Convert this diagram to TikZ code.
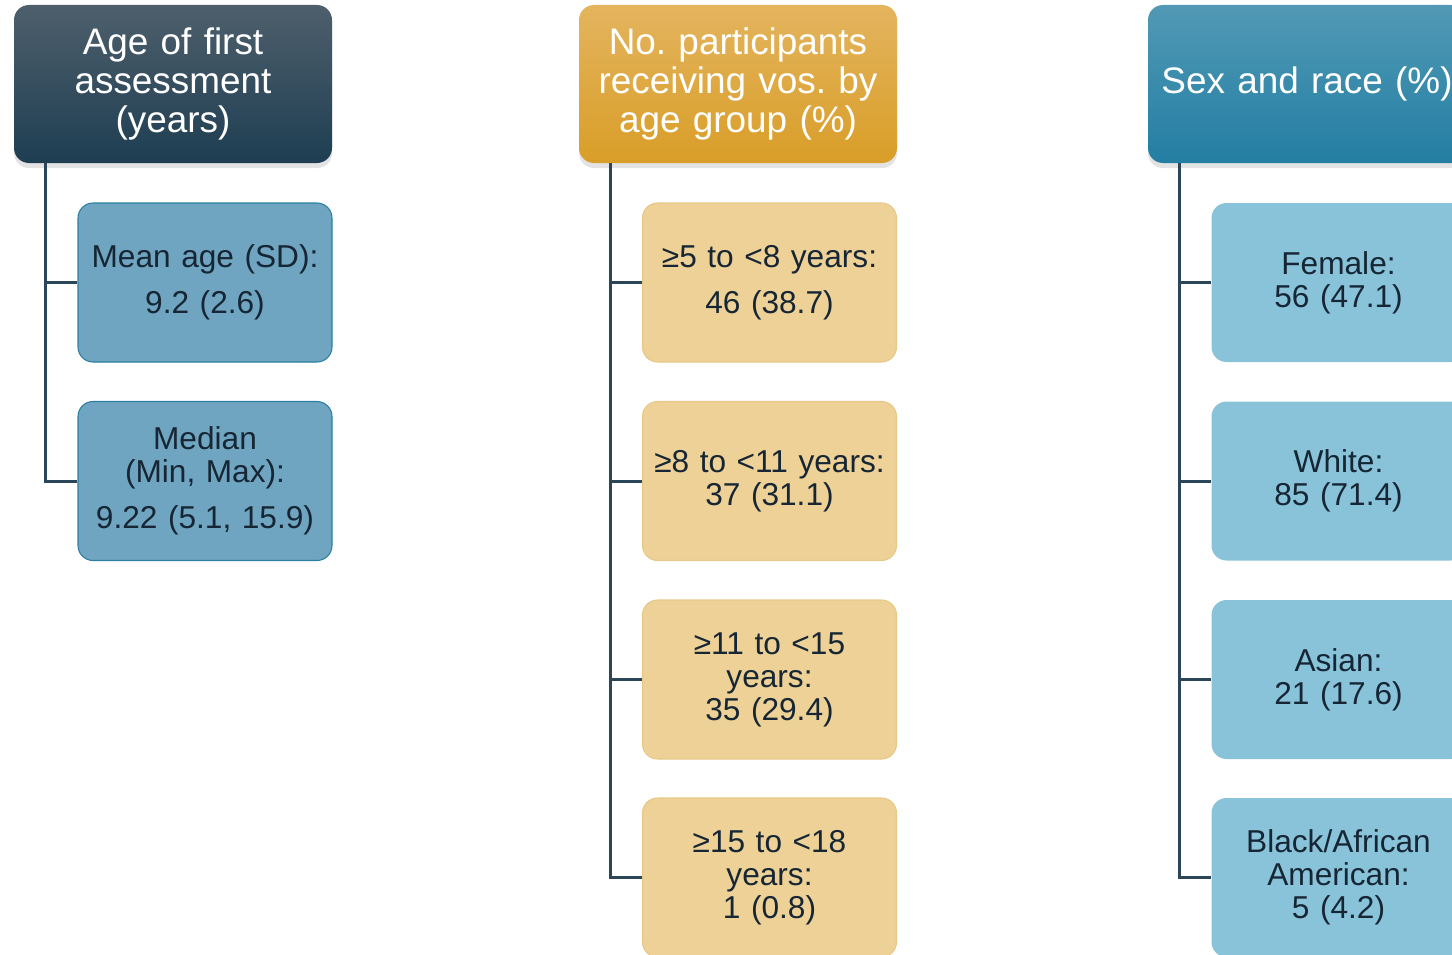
\documentclass[tikz,border=0pt]{standalone}
\usepackage{fontspec}
\setmainfont{Liberation Sans}
\usepackage{xcolor}
\usepackage{tikz}
\usetikzlibrary{shadows, positioning}
\frenchspacing
\definecolor{slatetop}{RGB}{78,95,108}
\definecolor{slatebot}{RGB}{30,62,82}
\definecolor{goldtop}{RGB}{228,180,94}
\definecolor{goldbot}{RGB}{217,158,40}
\definecolor{tealtop}{RGB}{81,153,181}
\definecolor{tealbot}{RGB}{35,126,163}
\definecolor{agefill}{RGB}{111,165,192}
\definecolor{ageline}{RGB}{42,127,163}
\definecolor{grpfill}{RGB}{237,209,150}
\definecolor{grpline}{RGB}{232,200,136}
\definecolor{racefill}{RGB}{137,195,217}
\definecolor{linkcol}{RGB}{43,70,89}
\definecolor{txtdark}{RGB}{22,38,52}
\tikzset{
  head/.style={rectangle, rounded corners=0.3cm, minimum width=6.36cm, minimum height=3.16cm,
               text width=5.9cm, inner xsep=0.2cm, align=center, text=white, font=\fontsize{21}{22.2}\selectfont,
               drop shadow={shadow xshift=0pt, shadow yshift=-0.1cm, opacity=0.22}},
  item/.style={rectangle, rounded corners=0.3cm, minimum width=5.08cm, minimum height=3.18cm,
               text width=4.7cm, inner xsep=0.19cm, align=center, text=txtdark, font=\fontsize{18}{18.8}\selectfont},
  ageitem/.style={item, fill=agefill, draw=ageline, line width=0.6pt},
  grpitem/.style={item, fill=grpfill, draw=grpline, line width=0.6pt},
  raceitem/.style={item, fill=racefill},
  link/.style={draw=linkcol, line width=1.7pt},
}
\begin{document}
\begin{tikzpicture}
\clip (0,-19.08) rectangle (29.04,0);
\useasboundingbox (0,-19.08) rectangle (29.04,0);
% naglowki kolumn
\node[head, top color=slatetop, bottom color=slatebot] (age) at (3.46,-1.68) {Age of first\\ assessment\\ (years)};
\node[head, top color=goldtop, bottom color=goldbot] (grp) at (14.76,-1.68) {No. participants\\ receiving vos. by\\ age group (\%)};
\node[head, top color=tealtop, bottom color=tealbot] (race) at (26.14,-1.68) {Sex and race (\%)};

% wiek
\node[ageitem] (mean) at (4.10,-5.65) {Mean age (SD):\\[0.26cm] 9.2 (2.6)};
\node[ageitem] (median) at (4.10,-9.62) {Median\\ (Min, Max):\\[0.26cm] 9.22 (5.1, 15.9)};

% grupy wiekowe
\node[grpitem] (g1) at (15.39,-5.65) {≥5 to <8 years:\\[0.26cm] 46 (38.7)};
\node[grpitem] (g2) at (15.39,-9.62) {≥8 to <11 years:\\ 37 (31.1)};
\node[grpitem] (g3) at (15.39,-13.59) {≥11 to <15\\ years:\\ 35 (29.4)};
\node[grpitem] (g4) at (15.39,-17.55) {≥15 to <18\\ years:\\ 1 (0.8)};

% plec i rasa
\node[raceitem] (female) at (26.77,-5.65) {Female:\\ 56 (47.1)};
\node[raceitem] (white) at (26.77,-9.62) {White:\\ 85 (71.4)};
\node[raceitem] (asian) at (26.77,-13.59) {Asian:\\ 21 (17.6)};
\node[raceitem] (black) at (26.77,-17.55) {Black/African\\ American:\\ 5 (4.2)};

% polaczenia
\draw[link] ([xshift=0.64cm]age.south west) |- (mean.west);
\draw[link] ([xshift=0.64cm]age.south west) |- (median.west);

\draw[link] ([xshift=0.64cm]grp.south west) |- (g1.west);
\draw[link] ([xshift=0.64cm]grp.south west) |- (g2.west);
\draw[link] ([xshift=0.64cm]grp.south west) |- (g3.west);
\draw[link] ([xshift=0.64cm]grp.south west) |- (g4.west);

\draw[link] ([xshift=0.64cm]race.south west) |- (female.west);
\draw[link] ([xshift=0.64cm]race.south west) |- (white.west);
\draw[link] ([xshift=0.64cm]race.south west) |- (asian.west);
\draw[link] ([xshift=0.64cm]race.south west) |- (black.west);
\end{tikzpicture}
\end{document}
